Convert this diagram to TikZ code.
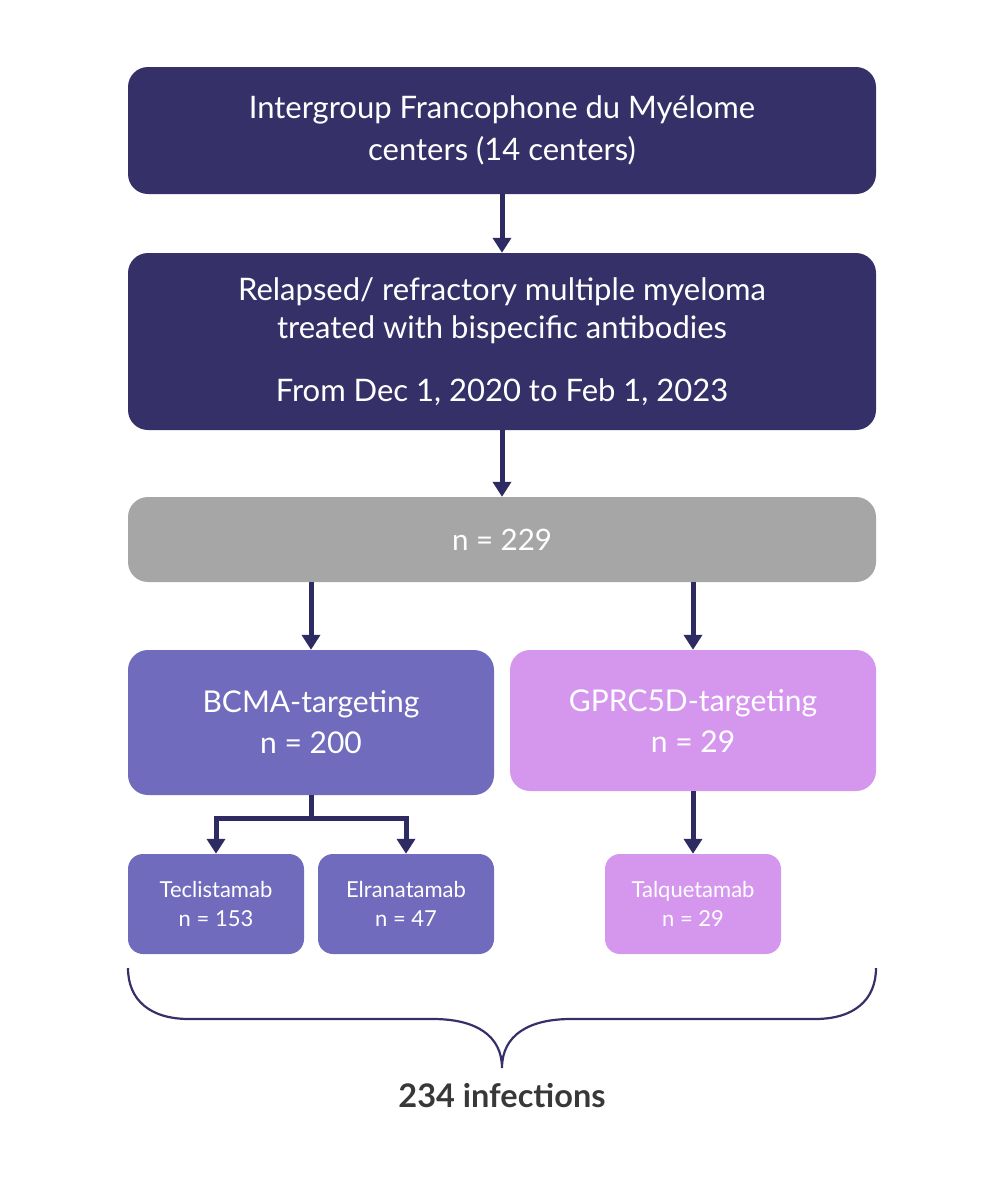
\documentclass[tikz,border=0pt]{standalone}
\usepackage{fontspec}
\setmainfont{Lato}
\usetikzlibrary{arrows.meta}
\definecolor{navy}{HTML}{363069}
\definecolor{arrowc}{HTML}{2E2A62}
\definecolor{grayb}{HTML}{A6A6A6}
\definecolor{bcma}{HTML}{706BBD}
\definecolor{gprc}{HTML}{D597EE}
\definecolor{txtdark}{HTML}{383838}
\tikzset{
  box/.style={rounded corners=20pt, inner sep=0pt, text=white, align=center, minimum width=748pt},
  bigtxt/.style={font=\fontsize{31}{42}\selectfont},
  midtxt/.style={font=\fontsize{30}{41}\selectfont},
  smallbox/.style={rounded corners=15pt, inner sep=0pt, text=white, align=center, minimum width=176pt, minimum height=100pt, font=\fontsize{22}{29}\selectfont},
  conn/.style={draw=arrowc, line width=5pt, -{Triangle[width=18pt,length=15pt]}},
}
\begin{document}
\begin{tikzpicture}[x=1pt,y=-1pt]
\useasboundingbox (0,0) rectangle (1000,1179);
\node[box, bigtxt, fill=navy, minimum height=127pt] (top) at (502,130.5) {Intergroup Francophone du Myélome\\centers (14 centers)};
\node[box, fill=navy, minimum height=177pt, font=\fontsize{31}{38}\selectfont] (rel) at (502,341.5) {Relapsed/ refractory multiple myeloma\\treated with bispecific antibodies\\[25pt]From Dec 1, 2020 to Feb 1, 2023};
\node[box, font=\fontsize{29.5}{40}\selectfont, fill=grayb, minimum height=85pt] (n229) at (502,539.5) {n = 229};
\node[box, midtxt, fill=bcma, minimum width=366pt, minimum height=145pt] (bcma) at (311,722.5) {BCMA-targeting\\n = 200};
\node[box, midtxt, fill=gprc, minimum width=366pt, minimum height=141pt] (gprc) at (693,720.5) {GPRC5D-targeting\\n = 29};
\node[smallbox, fill=bcma] (tec) at (216,904) {Teclistamab\\n = 153};
\node[smallbox, fill=bcma] (elr) at (406,904) {Elranatamab\\n = 47};
\node[smallbox, fill=gprc] (tal) at (693,904) {Talquetamab\\n = 29};
\draw[conn] (top.south) -- (rel.north);
\draw[conn] (rel.south) -- (n229.north);
\draw[conn] (n229.south -| bcma.north) -- (bcma.north);
\draw[conn] (n229.south -| gprc.north) -- (gprc.north);
\draw[conn] (gprc.south) -- (tal.north);
\draw[conn, -] (bcma.south) -- ++(0,23) coordinate (split);
\draw[conn] (split) -| (tec.north);
\draw[conn] (split) -| (elr.north);
\node[font=\fontsize{32.5}{38}\selectfont\bfseries, text=txtdark] (inf) at (502,1096) {234 infections};
\draw[draw=navy, line width=2.2pt] (128,968) .. controls (128,1000) and (150,1019) .. (189,1019) -- (433,1019) .. controls (475,1019) and (502,1035) .. (502,1068) .. controls (502,1035) and (529,1019) .. (571,1019) -- (815,1019) .. controls (854,1019) and (876,1000) .. (876,968);
\end{tikzpicture}
\end{document}
